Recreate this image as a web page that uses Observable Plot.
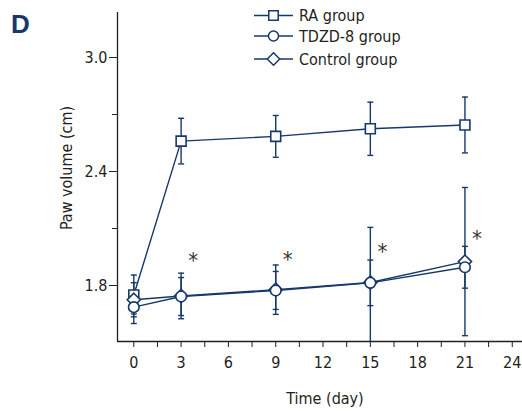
<!DOCTYPE html>
<html>
<head>
<meta charset="utf-8">
<script src="https://cdn.jsdelivr.net/npm/d3@7"></script>
<script src="https://cdn.jsdelivr.net/npm/@observablehq/plot@0.6"></script>
<style>
  html, body { margin: 0; padding: 0; background: #fff; }
  #wrap { position: relative; width: 522px; height: 411px; overflow: hidden;
          font-family: "Liberation Sans Narrow", "DejaVu Sans Condensed", "DejaVu Sans", sans-serif; font-stretch: condensed; }
  #panel { position: absolute; left: 11px; top: 11px; font: bold 26px "Liberation Sans", Arial, sans-serif; color: #17386b; line-height: 1; }
  #legend { position: absolute; left: 0; top: 0; }
</style>
</head>
<body>
<div id="wrap">
  <div id="chart"></div>
  <div id="panel">D</div>
  <svg id="legend" width="522" height="80"></svg>
</div>
<script>
// ---- data ----
const days = [0, 3, 9, 15, 21];
const seriesNames = ["RA group", "TDZD-8 group", "Control group"];
const raMean   = [1.75, 2.56, 2.585, 2.625, 2.645];
const raErrUp  = [0.105, 0.12, 0.11, 0.14, 0.147];
const raErrLow = [0.10, 0.12, 0.11, 0.14, 0.147];
const tdzdMean = [1.686, 1.742, 1.774, 1.814, 1.896];
const tdzdErrUp  = [0.086, 0.10, 0.10, 0.12, 0.11];
const tdzdErrLow = [0.086, 0.10, 0.10, 0.12, 0.11];
const ctrlMean = [1.725, 1.745, 1.778, 1.816, 1.926];
const ctrlErrUp  = [0.09, 0.12, 0.13, 0.29, 0.39];
const ctrlErrLow = [0.09, 0.12, 0.13, 0.34, 0.39];
const starDays = [3, 9, 15, 21];
const starY    = [1.93, 1.935, 1.975, 2.045];
const xTicks = [0, 3, 6, 9, 12, 15, 18, 21, 24];
const xMinorTicks = [1.5, 4.5, 7.5, 10.5, 13.5, 16.5, 19.5, 22.5];
const yTicks = [1.8, 2.4, 3.0];
const yMinorTicks = [2.1, 2.7];
const xDomain = [-1.034, 24.65];
const yDomain = [1.5053, 3.237];

const C = "#17386b";
const INK = "#231f20";
const FONT = `"Liberation Sans Narrow", "DejaVu Sans Condensed", "DejaVu Sans", sans-serif`;

const symbols = ["square", "circle", "diamond2"];
const means = [raMean, tdzdMean, ctrlMean];
const errsUp = [raErrUp, tdzdErrUp, ctrlErrUp];
const errsLow = [raErrLow, tdzdErrLow, ctrlErrLow];

const series = seriesNames.map((name, s) => days.map((d, i) => ({
  name, day: d, mean: means[s][i], lo: means[s][i] - errsLow[s][i], hi: means[s][i] + errsUp[s][i]
})));
const all = series.flat();
const stars = starDays.map((d, i) => ({day: d, y: starY[i]}));

const capSymbol = {
  draw(ctx, size) {
    const w = Math.sqrt(size / Math.PI);
    ctx.moveTo(-w, 0); ctx.lineTo(w, 0);
  }
};

const markerR = {square: 5.6, circle: 5.3, diamond2: 5.9};
// draw order: RA, Control, TDZD (circles on top)
const drawOrder = [0, 2, 1];

const plot = Plot.plot({
  width: 522,
  height: 411,
  marginLeft: 117,
  marginRight: 0,
  marginTop: 12,
  marginBottom: 70,
  style: {fontFamily: FONT, fontSize: "16px", color: INK, background: "white", fontStretch: "condensed"},
  x: {domain: xDomain},
  y: {domain: yDomain},
  marks: [
    Plot.ruleX([xDomain[0]], {stroke: INK, strokeWidth: 1.3}),
    Plot.ruleY([yDomain[0]], {stroke: INK, strokeWidth: 1.3}),
    Plot.axisX({ticks: xTicks, tickSize: 6, tickPadding: 9, tickFormat: d3.format("d"), label: null, stroke: INK, fill: INK}),
    Plot.axisX({ticks: xMinorTicks, tickSize: 6, tickFormat: () => "", label: null, stroke: INK}),
    Plot.axisY({ticks: yTicks, tickSize: 8, tickPadding: 2, tickFormat: d3.format(".1f"), label: null, stroke: INK, fill: INK}),
    Plot.axisY({ticks: yMinorTicks, tickSize: 5, tickFormat: () => "", label: null, stroke: INK}),
    Plot.text(["Paw volume (cm)"], {frameAnchor: "left", textAnchor: "middle", rotate: -90, dx: -51, dy: -9, fill: INK, fontSize: 16}),
    Plot.text(["Time (day)"], {frameAnchor: "bottom", dy: 62, dx: 5, fill: INK, fontSize: 16}),
    // error bars
    Plot.ruleX(all, {x: "day", y1: "lo", y2: "hi", stroke: C, strokeWidth: 1.4, clip: true}),
    Plot.dot(all, {x: "day", y: "lo", symbol: capSymbol, r: 3, stroke: C, strokeWidth: 1.4, clip: true}),
    Plot.dot(all, {x: "day", y: "hi", symbol: capSymbol, r: 3, stroke: C, strokeWidth: 1.4, clip: true}),
    // lines & markers
    ...drawOrder.map(s => Plot.line(series[s], {x: "day", y: "mean", stroke: C, strokeWidth: 1.4})),
    ...drawOrder.map(s => Plot.dot(series[s], {x: "day", y: "mean", symbol: symbols[s], r: markerR[symbols[s]], fill: "white", stroke: C, strokeWidth: 1.6})),
    Plot.text(stars, {x: "day", y: "y", text: () => "*", dx: 12, fill: "#333", fontSize: 22, lineAnchor: "middle"})
  ]
});
document.getElementById("chart").appendChild(plot);

// ---- legend ----
const leg = d3.select("#legend");
const rowY = [15.5, 36, 59];
const d3sym = {square: d3.symbolSquare, circle: d3.symbolCircle, diamond2: d3.symbolDiamond2};
seriesNames.forEach((name, s) => {
  const g = leg.append("g").attr("transform", `translate(0,${rowY[s]})`);
  g.append("line").attr("x1", 254).attr("x2", 293).attr("y1", 0).attr("y2", 0)
    .attr("stroke", C).attr("stroke-width", 1.4);
  const r = markerR[symbols[s]] * 0.95;
  g.append("path").attr("transform", "translate(273.5,0)")
    .attr("d", d3.symbol().type(d3sym[symbols[s]]).size(Math.PI * r * r)())
    .attr("fill", "white").attr("stroke", C).attr("stroke-width", 1.5);
  g.append("text").attr("x", 299).attr("y", 0).attr("dy", "0.36em")
    .attr("fill", INK).attr("font-family", FONT).attr("font-stretch", "condensed").attr("font-size", 16).text(name);
});
</script>
</body>
</html>
